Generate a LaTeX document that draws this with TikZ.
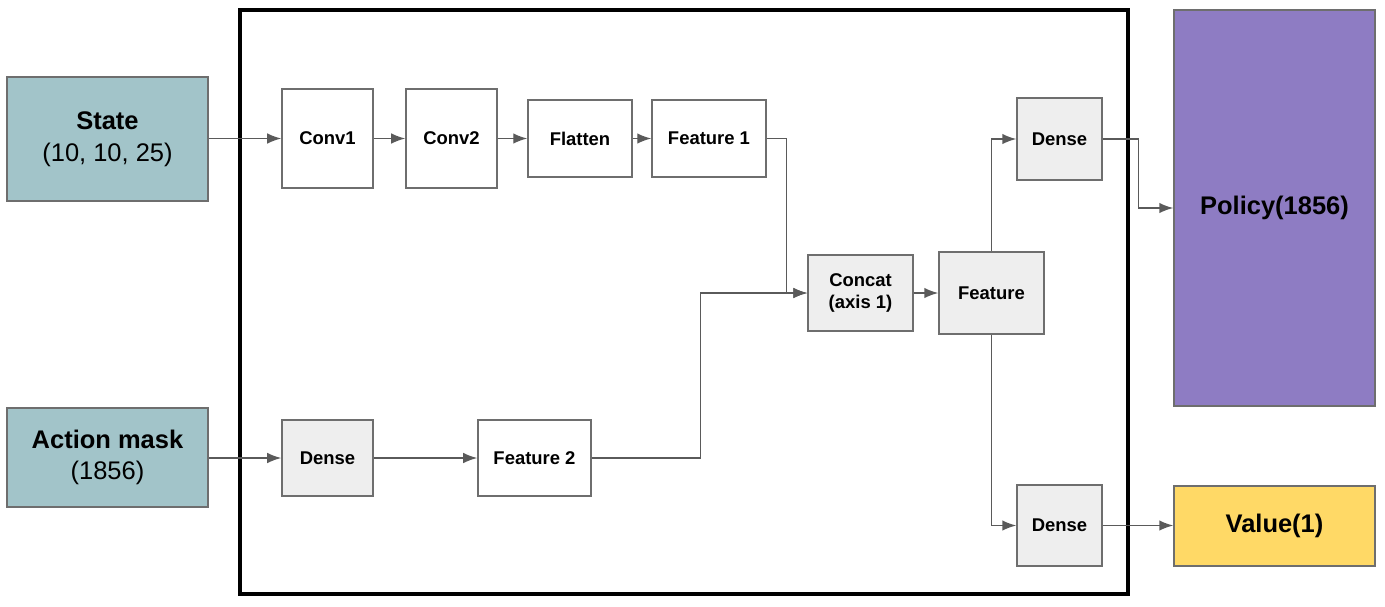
\documentclass[tikz,border=0pt]{standalone}
\usepackage{fontspec}
\setmainfont{Liberation Sans}
\usepackage{tikz}
\usetikzlibrary{arrows.meta,calc,positioning}
\definecolor{inputblue}{HTML}{A2C4C9}
\definecolor{policyviolet}{HTML}{8E7CC3}
\definecolor{valueyellow}{HTML}{FFD966}
\definecolor{layergray}{HTML}{EEEEEE}
\definecolor{edgegray}{HTML}{6E6E6E}
\definecolor{linegray}{HTML}{5A5A5A}
\tikzset{
  % blocks
  blk/.style   = {draw=edgegray, line width=0.8pt, fill=white, align=center,
                  inner sep=0pt, font=\fontsize{10.5}{12.5}\selectfont\bfseries},
  gblk/.style  = {blk, fill=layergray},
  io/.style    = {blk, font=\fontsize{14.5}{18}\selectfont},
  sz/.style 2 args = {minimum width=#1*0.02cm, minimum height=#2*0.02cm},
  % lines, arrows
  conn/.style  = {line width=0.85pt, linegray, -{Latex[length=8pt,width=6pt]}},
}
\begin{document}
\begin{tikzpicture}[x=0.02cm, y=-0.02cm]
\useasboundingbox (0,0) rectangle (1385,606);

% frame
\draw[line width=2.3pt] (240,10) rectangle (1128,594);

%---------------------------------------------
\node[io, fill=inputblue, sz={201}{124}]    (state)  at (107.5,139) {\textbf{State}\\(10, 10, 25)};
\node[io, fill=inputblue, sz={201}{99}]     (mask)   at (107.5,457.5) {\textbf{Action mask}\\(1856)};
\node[io, fill=policyviolet, sz={201}{396}] (policy) at (1274.5,208) {\textbf{Policy(1856)}};
\node[io, fill=valueyellow, sz={201}{80}]   (value)  at (1274.5,526) {\textbf{Value(1)}};

\node[blk, sz={91}{99}]   (conv1)  at (327.5,138.5) {Conv1};
\node[blk, sz={91}{99}]   (conv2)  at (451.5,138.5) {Conv2};
\node[blk, sz={104}{77}]  (flat)   at (580,138.5)   {Flatten};
\node[blk, sz={114}{77}]  (feat1)  at (709,138.5)   {Feature 1};

\node[gblk, sz={91}{76}]  (densel) at (327.5,458)   {Dense};
\node[blk, sz={113}{76}]  (feat2)  at (534.5,458)   {Feature 2};

\node[gblk, sz={105}{76}] (concat) at (860.5,293)   {Concat\\(axis 1)};
\node[gblk, sz={105}{82}] (feat)   at (991.5,293)   {Feature};
\node[gblk, sz={85}{82}]  (dtop)   at (1059.5,139)  {Dense};
\node[gblk, sz={85}{81}]  (dbot)   at (1059.5,525.5) {Dense};

%---------------------------------------------
\draw[conn] (state.east |- conv1.west) -- (conv1.west);
\draw[conn] (conv1) -- (conv2);
\draw[conn] (conv2) -- (flat);
\draw[conn] (flat) -- (feat1);
\draw[conn] (mask.east |- densel.west) -- (densel.west);
\draw[conn] (densel) -- (feat2);

\draw[conn] (feat1.east) -- ++(20,0) |- (concat.west);
\draw[conn] (feat2.east) -- ++(109,0) |- (concat.west);
\draw[conn] (concat) -- (feat);

\draw[conn] (feat.north) |- (dtop.west);
\draw[conn] (feat.south) |- (dbot.west);
\draw[conn] (dtop.east) -- ++(36,0) |- (policy.west);
\draw[conn] (dbot.east) -- (value.west |- dbot.east);

\end{tikzpicture}
\end{document}
